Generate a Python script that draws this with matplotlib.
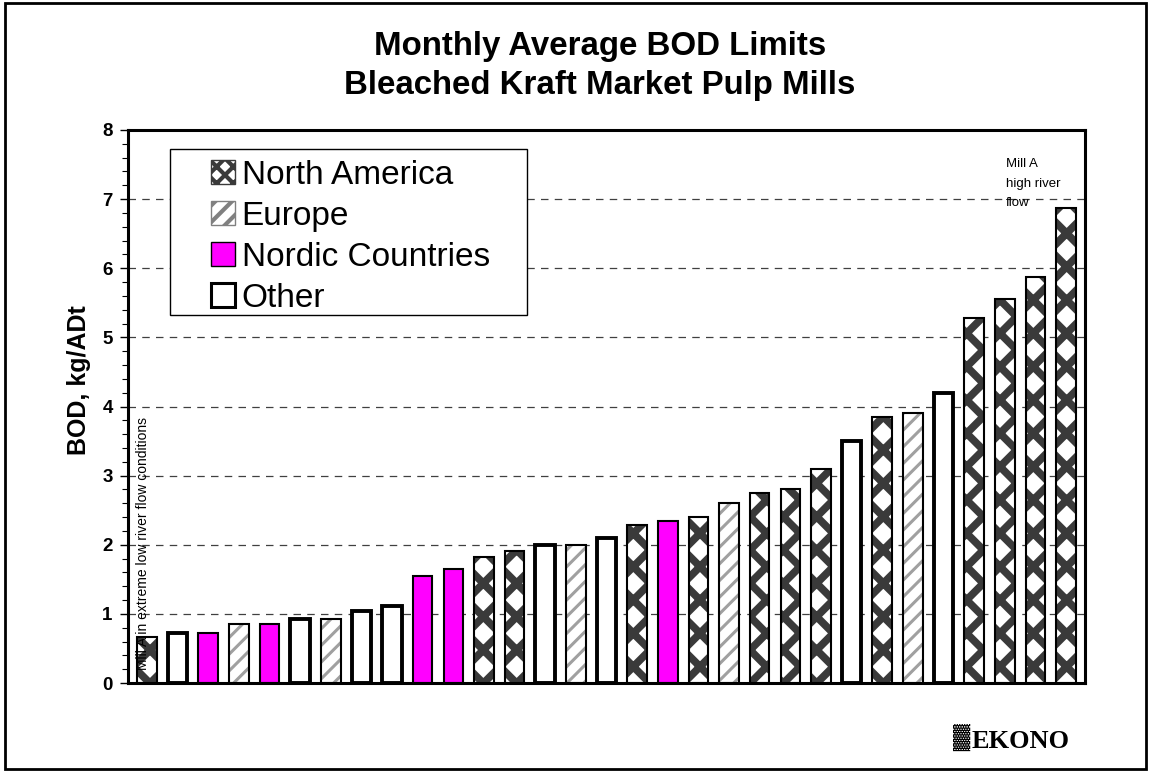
import matplotlib
matplotlib.use("Agg")
import matplotlib.pyplot as plt
from matplotlib.patches import Patch, Rectangle

plt.rcParams['font.family'] = ['Liberation Sans', 'DejaVu Sans']
plt.rcParams['hatch.linewidth'] = 3.0

# ---- data ----
regions = ["North America", "Europe", "Nordic Countries", "Other"]
mill_region = ["NA", "Other", "Nordic", "Europe", "Nordic", "Other", "Europe", "Other",
               "Other", "Nordic", "Nordic", "NA", "NA", "Other", "Europe", "Other",
               "NA", "Nordic", "NA", "Europe", "NA", "NA", "NA", "Other",
               "NA", "Europe", "Other", "NA", "NA", "NA", "NA"]
bod_values = [0.67, 0.73, 0.73, 0.85, 0.86, 0.92, 0.93, 1.04,
              1.12, 1.55, 1.65, 1.82, 1.91, 2.00, 2.00, 2.10,
              2.28, 2.35, 2.40, 2.60, 2.75, 2.80, 3.10, 3.50,
              3.85, 3.90, 4.20, 5.28, 5.55, 5.88, 6.87]
y_ticks = [0, 1, 2, 3, 4, 5, 6, 7, 8]

title = "Monthly Average BOD Limits\nBleached Kraft Market Pulp Mills"
y_label = "BOD, kg/ADt"
note_low = "Mill A in extreme low river flow conditions"
note_high = "Mill A\nhigh river\nflow"

# ---- styles ----
styles = {
    "NA":     dict(face="white", hatch="x", hcolor="#3a3a3a", hlw=5.5, lw=1.5),
    "Europe": dict(face="white", hatch="//", hcolor="#a0a0a0", hlw=2.2, lw=1.5),
    "Nordic": dict(face="#ff00ff", hatch=None, hcolor=None, hlw=None, lw=1.5),
    "Other":  dict(face="white", hatch=None, hcolor=None, hlw=None, lw=2.8),
}
key_of = {"North America": "NA", "Europe": "Europe", "Nordic Countries": "Nordic", "Other": "Other"}

fig = plt.figure(figsize=(11.51, 7.71), dpi=100)
ax = fig.add_axes([128/1151, 1-683/771, (1085-128)/1151, (683-130)/771])

x = list(range(len(bod_values)))
width = 0.64
for xi, v, r in zip(x, bod_values, mill_region):
    s = styles[r]
    ax.bar(xi, v, width=width, color=s["face"], edgecolor="none", zorder=2)
    if s["hatch"]:
        with plt.rc_context({'hatch.linewidth': s["hlw"]}):
            bc = ax.bar(xi, v, width=width, color="none", edgecolor=s["hcolor"],
                        hatch=s["hatch"], linewidth=0, zorder=3)
        for p in bc:
            if hasattr(p, "set_hatch_linewidth"):
                p.set_hatch_linewidth(s["hlw"])
    ax.bar(xi, v, width=width, color="none", edgecolor="black",
           linewidth=s["lw"], zorder=4)

ax.set_xlim(-0.62, len(bod_values) - 0.38)
ax.set_ylim(0, 8)
ax.set_yticks(y_ticks)
ax.set_yticks([t/5 for t in range(41)], minor=True)
ax.set_yticklabels([str(t) for t in y_ticks], fontsize=13.5, fontweight="bold")
ax.tick_params(axis="y", which="major", direction="out", length=6, width=1, pad=5)
ax.tick_params(axis="y", which="minor", direction="out", length=4, width=0.8)
ax.set_xticks([])
for sp in ax.spines.values():
    sp.set_linewidth(2.2)
ax.set_ylabel(y_label, fontsize=18, fontweight="bold")
ax.yaxis.set_label_coords(-0.039, 0.548)

for yv in y_ticks[1:-1]:
    ax.axhline(yv, color="#404040", linewidth=0.9, linestyle=(0, (6, 5)), zorder=1)

fig.text(600/1151, 1-66/771, title, fontsize=23.8, fontweight="bold",
         ha="center", va="center", linespacing=1.3)

# legend: manual frame, frameless legend inside
frame = Rectangle((42/957, (683-315)/553), (527-170)/957, (315-149)/553,
                  transform=ax.transAxes, facecolor="white", edgecolor="black",
                  linewidth=1.0, zorder=6)
ax.add_patch(frame)
handles = []
for name in regions:
    s = styles[key_of[name]]
    handles.append(Patch(facecolor=s["face"], edgecolor="black",
                         linewidth=2.2 if name == "Other" else 1.0))
leg = ax.legend(handles, regions, loc="upper left",
                bbox_to_anchor=((211-128)/957, (683-160)/553),
                fontsize=24, frameon=False,
                handlelength=0.72, handleheight=0.72, handletextpad=0.2,
                labelspacing=0.3, borderpad=0.0, borderaxespad=0)
leg.set_zorder(7)
for patch, name in zip(leg.get_patches(), regions):
    s = styles[key_of[name]]
    if s["hatch"]:
        patch.set_hatch("xx" if s["hatch"] == "x" else s["hatch"])
        patch.set_edgecolor("#3a3a3a" if s["hatch"] == "x" else "#808080")

ax.text(-0.12, 0.19, note_low, rotation=90, fontsize=10, ha="center", va="bottom", zorder=5)
ax.text(28.05, 7.59, note_high, fontsize=9.5, ha="left", va="top", linespacing=1.8, zorder=5)

# logo text
fig.text(972/1151, 1-742/771, "EKONO", fontsize=19, fontweight="bold",
         family=["Liberation Serif", "DejaVu Serif"], ha="left", va="center")
fig.text(953/1151, 1-737/771, "\u2593", fontsize=17, ha="left", va="center")

# outer border
fig.patches.append(Rectangle((5/1151, 2/771), 1141/1151, 766/771, transform=fig.transFigure,
                             fill=False, edgecolor="black", linewidth=2))

fig.savefig("out.png", dpi=100)
